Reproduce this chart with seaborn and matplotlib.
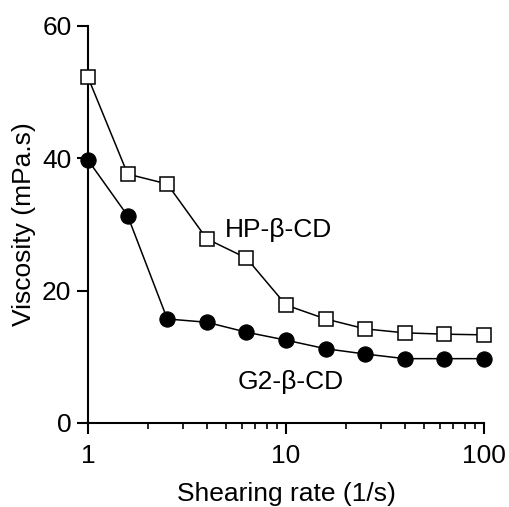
import numpy as np
import pandas as pd
import seaborn as sns
from matplotlib import pyplot as plt
from matplotlib.ticker import LogLocator, NullFormatter

# datos
shear_rate = [1, 1.585, 2.512, 3.981, 6.31, 10, 15.85, 25.12, 39.81, 63.1, 100]
visc_hp = [52.2, 37.6, 36.1, 27.8, 24.9, 17.8, 15.7, 14.2, 13.6, 13.4, 13.3]
visc_g2 = [39.7, 31.3, 15.7, 15.2, 13.7, 12.5, 11.2, 10.4, 9.7, 9.7, 9.7]
series_names = ["HP-β-CD", "G2-β-CD"]

sns.set_theme(style="ticks")
plt.rcParams["font.family"] = ["Liberation Sans", "DejaVu Sans"]
plt.rcParams.update({"axes.linewidth": 1.5, "xtick.major.width": 1.5, "ytick.major.width": 1.5,
                     "xtick.minor.width": 1.2, "xtick.major.size": 8, "xtick.minor.size": 4,
                     "ytick.major.size": 8, "xtick.color": "black", "ytick.color": "black",
                     "axes.edgecolor": "black", "axes.labelcolor": "black", "text.color": "black"})

df = pd.DataFrame({"rate": shear_rate * 2,
                   "visc": visc_hp + visc_g2,
                   "serie": [series_names[0]] * len(shear_rate) + [series_names[1]] * len(shear_rate)})

fig = plt.figure(figsize=(5.09, 5.07), dpi=100)
ax = fig.add_axes([0.173, 0.166, 0.778, 0.783])

sns.lineplot(data=df[df.serie == series_names[0]], x="rate", y="visc", color="black", lw=1.1,
             marker="s", markersize=10.5, markerfacecolor="white", markeredgecolor="black",
             markeredgewidth=1.1, ax=ax, legend=False)
sns.lineplot(data=df[df.serie == series_names[1]], x="rate", y="visc", color="black", lw=1.1,
             marker="o", markersize=11, markerfacecolor="black", markeredgecolor="black",
             ax=ax, legend=False)
for ln in ax.lines:
    ln.set_clip_on(False)
    ln.set_zorder(5)

ax.set_xscale("log")
ax.set_xlim(1, 100)
ax.set_ylim(0, 60)
ax.set_yticks([0, 20, 40, 60])
ax.set_xticks([1, 10, 100])
ax.set_xticklabels(["1", "10", "100"])
ax.xaxis.set_minor_locator(LogLocator(base=10, subs=np.arange(2, 10)))
ax.xaxis.set_minor_formatter(NullFormatter())
ax.tick_params(labelsize=19)
ax.tick_params(axis="y", pad=4)
ax.tick_params(axis="x", pad=7)
sns.despine(ax=ax)

ax.set_xlabel("Shearing rate (1/s)", fontsize=19, labelpad=10)
ax.set_ylabel("Viscosity (mPa.s)", fontsize=19, labelpad=4)

ax.text(4.92, 29.2, series_names[0], fontsize=19, ha="left", va="center")
ax.text(5.72, 6.2, series_names[1], fontsize=19, ha="left", va="center")

plt.savefig("out.png", dpi=100)
